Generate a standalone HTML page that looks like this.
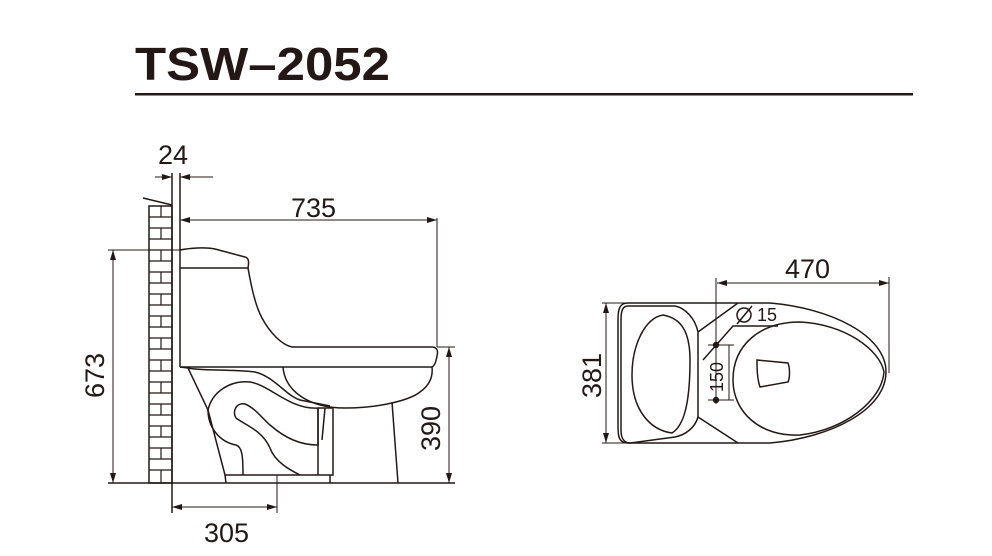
<!DOCTYPE html>
<html><head><meta charset="utf-8"><style>
html,body{margin:0;padding:0;background:#fff;}
svg{display:block;}
text{font-family:"Liberation Sans",sans-serif;fill:#231815;}
</style></head><body>
<svg width="992" height="556" viewBox="0 0 992 556" xmlns="http://www.w3.org/2000/svg">
<defs>
<marker id="ar" viewBox="0 0 10 6" refX="10" refY="3" markerWidth="10" markerHeight="6" orient="auto-start-reverse" markerUnits="userSpaceOnUse"><path d="M0,0 L10,3 L0,6 z" fill="#231815"/></marker>
</defs>
<text x="135" y="80" font-size="46" font-weight="bold" textLength="255" lengthAdjust="spacingAndGlyphs">TSW–2052</text>
<rect x="135" y="93" width="778" height="2.5" fill="#231815"/>

<g fill="none" stroke="#231815" stroke-width="1.5">
<line x1="172" y1="173" x2="172" y2="513"/>
<line x1="180" y1="173" x2="180" y2="367"/>
<rect x="149" y="206" width="23" height="277"/>
<line x1="143" y1="198" x2="172" y2="205"/>
<g stroke-width="1.2">
<line x1="149" y1="217" x2="172" y2="217"/><line x1="149" y1="228" x2="172" y2="228"/>
<line x1="149" y1="239" x2="172" y2="239"/><line x1="149" y1="250" x2="172" y2="250"/>
<line x1="149" y1="261" x2="172" y2="261"/><line x1="149" y1="272" x2="172" y2="272"/>
<line x1="149" y1="283" x2="172" y2="283"/><line x1="149" y1="294" x2="172" y2="294"/>
<line x1="149" y1="305" x2="172" y2="305"/><line x1="149" y1="316" x2="172" y2="316"/>
<line x1="149" y1="327" x2="172" y2="327"/><line x1="149" y1="338" x2="172" y2="338"/>
<line x1="149" y1="349" x2="172" y2="349"/><line x1="149" y1="360" x2="172" y2="360"/>
<line x1="149" y1="371" x2="172" y2="371"/><line x1="149" y1="382" x2="172" y2="382"/>
<line x1="149" y1="393" x2="172" y2="393"/><line x1="149" y1="404" x2="172" y2="404"/>
<line x1="149" y1="415" x2="172" y2="415"/><line x1="149" y1="426" x2="172" y2="426"/>
<line x1="149" y1="437" x2="172" y2="437"/><line x1="149" y1="448" x2="172" y2="448"/>
<line x1="149" y1="459" x2="172" y2="459"/><line x1="149" y1="470" x2="172" y2="470"/>
<path d="M161,206v11 M161,228v11 M161,250v11 M161,272v11 M161,294v11 M161,316v11 M161,338v11 M161,360v11 M161,382v11 M161,404v11 M161,426v11 M161,448v11 M161,470v13"/>
</g>
<line x1="155" y1="177" x2="172" y2="177" marker-end="url(#ar)" stroke-width="1"/>
<line x1="213" y1="177" x2="180" y2="177" marker-end="url(#ar)" stroke-width="1"/>
<line x1="180" y1="220" x2="437" y2="220" marker-start="url(#ar)" marker-end="url(#ar)" stroke-width="1"/>
<line x1="437" y1="218" x2="437" y2="347" stroke-width="1"/>
<line x1="108" y1="250" x2="182" y2="250" stroke-width="1"/>
<line x1="113" y1="250" x2="113" y2="483" marker-start="url(#ar)" marker-end="url(#ar)" stroke-width="1"/>
<line x1="108" y1="483" x2="455" y2="483"/>
<line x1="437" y1="347" x2="455" y2="347" stroke-width="1"/>
<line x1="449" y1="347" x2="449" y2="483" marker-start="url(#ar)" marker-end="url(#ar)" stroke-width="1"/>
<line x1="172" y1="507" x2="277" y2="507" marker-start="url(#ar)" marker-end="url(#ar)" stroke-width="1"/>
<line x1="277" y1="475" x2="277" y2="513" stroke-width="1"/>
<path d="M180,250 C190,248 205,247 215,249 L245,257 C249,258 249,262 248,268 L180,268"/>
<path d="M248,268 C251,285 255,305 262,318 C270,333 282,345 292,347 L433,347 C438,348 438,352 437,356 C436,362 434,366 432,367 L180,367"/>
<path d="M283,367 C285,392 310,408 345,408 C380,408 410,400 420,392 C430,385 433,376 432,367"/>
<path d="M392,402 L398,483"/>
<path d="M180,367 L188,368 L208,410 L225,475 L333,475 L333,408 L318,408"/>
<path d="M188,368 C200,371 230,369 255,372 C275,377 285,395 300,400 L330,406"/>
<path d="M208,410 C212,392 230,380 250,382 C270,385 290,410 318,408 L318,445 C300,445 285,438 270,425 C262,418 255,408 245,404 C236,402 232,412 236,418 C245,425 262,430 270,448 C275,462 290,470 300,475"/>
<path d="M208,410 C208,428 220,442 236,445 C242,447 243,455 243,475"/>
<path d="M225,475 L226,483 M330,475 L330,483 M318,408 L318,475 M325,408 L322,440"/>
<line x1="717" y1="283" x2="889" y2="283" marker-start="url(#ar)" marker-end="url(#ar)" stroke-width="1"/>
<line x1="716" y1="278" x2="716" y2="404" stroke-width="1"/>
<line x1="889" y1="277" x2="889" y2="373" stroke-width="1"/>
<line x1="602" y1="303" x2="640" y2="303" stroke-width="1"/>
<line x1="602" y1="443" x2="640" y2="443" stroke-width="1"/>
<line x1="606" y1="303" x2="606" y2="443" marker-start="url(#ar)" marker-end="url(#ar)" stroke-width="1"/>
<line x1="729" y1="345" x2="729" y2="400" stroke-width="1"/>
<line x1="708" y1="345" x2="734" y2="345" stroke-width="1"/>
<line x1="708" y1="400" x2="734" y2="400" stroke-width="1"/>
<path d="M628,303 L770,303 C830,308 886,335 886,372 C886,410 830,438 770,443 L628,443 C618,443 618,435 618,425 L618,320 C618,308 620,303 628,303 Z"/>
<path d="M628,306 L675,306 C685,308 695,318 698,332 L698,417 C695,428 685,435 675,437 L630,443 C624,443 621,438 621,430 L621,320 C621,310 623,306 628,306 Z"/>
<path d="M663,315 C680,318 690,330 690,360 C690,400 685,425 672,433 C650,430 632,410 632,375 C632,345 645,318 663,315 Z"/>
<path d="M698,332 L738,303 M698,417 L738,443 M703,360 L733,326 L778,326"/>
<path d="M733,380 C733,345 760,322 800,322 C845,324 880,350 884,372 C882,400 845,430 800,435 C760,437 733,412 733,380 Z"/>
<path d="M757,360 L788,363 C790,368 790,378 788,382 L760,387 C757,378 757,368 757,360 Z"/>
<circle cx="744" cy="315" r="7"/>
<line x1="737" y1="324" x2="752" y2="306"/>
</g>
<circle cx="716" cy="345" r="3.2" fill="#231815"/>
<circle cx="716" cy="400" r="3.2" fill="#231815"/>
<text x="158" y="164" font-size="27">24</text>
<text x="291" y="217" font-size="27">735</text>
<text x="204" y="542" font-size="27">305</text>
<text font-size="27" transform="translate(104,398) rotate(-90)">673</text>
<text font-size="27" transform="translate(440,451) rotate(-90)">390</text>
<text x="785" y="278" font-size="27">470</text>
<text font-size="27" transform="translate(601,398) rotate(-90)">381</text>
<text font-size="18" transform="translate(723,392) rotate(-90)">150</text>
<text x="757" y="321" font-size="18">15</text>
</svg>
</body></html>
